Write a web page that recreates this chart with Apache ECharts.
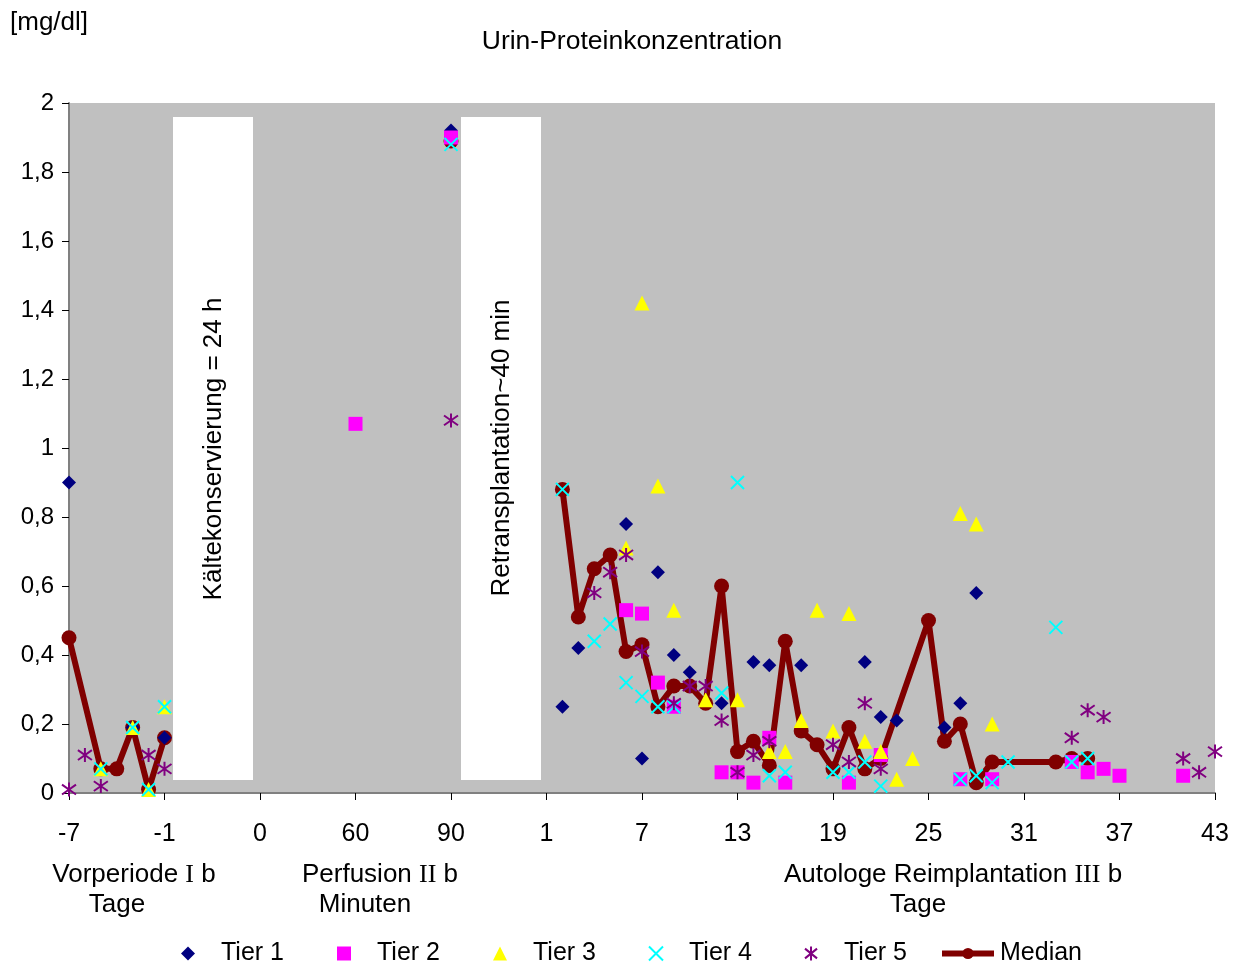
<!DOCTYPE html>
<html>
<head>
<meta charset="utf-8">
<title>Urin-Proteinkonzentration</title>
<script src="https://cdn.jsdelivr.net/npm/echarts@6/dist/echarts.min.js"></script>
<style>
  html, body { margin: 0; padding: 0; background: #ffffff; }
  #chart { width: 1242px; height: 964px; }
</style>
</head>
<body>
<div id="chart"></div>
<script>
// Tick labels of the x axis, one label every 6 category slots
const tickLabels = ['-7', '-1', '0', '60', '90', '1', '7', '13', '19', '25', '31', '37', '43'];

// Perfusion sampling times (minutes), each occupies one labelled slot
const perfusionTimes = [0, 60, 90];

// Measurements [phase, time, mg/dl]
// V = Vorperiode (day), P = Perfusion (minute), R = Reimplantation (day)
const tier1 = [
  ['V', -7, 0.90], ['V', -3, 0.19], ['V', -1, 0.16],
  ['P', 90, 1.92],
  ['R', 2, 0.25], ['R', 3, 0.42], ['R', 6, 0.78], ['R', 7, 0.10], ['R', 8, 0.64],
  ['R', 9, 0.40], ['R', 10, 0.35], ['R', 12, 0.26], ['R', 14, 0.38], ['R', 15, 0.37],
  ['R', 17, 0.37], ['R', 21, 0.38], ['R', 22, 0.22], ['R', 23, 0.21], ['R', 26, 0.19],
  ['R', 27, 0.26], ['R', 28, 0.58]
];
const tier2 = [
  ['P', 60, 1.07], ['P', 90, 1.90],
  ['R', 6, 0.53], ['R', 7, 0.52], ['R', 8, 0.32], ['R', 9, 0.25], ['R', 12, 0.06],
  ['R', 13, 0.06], ['R', 14, 0.03], ['R', 15, 0.16], ['R', 16, 0.03], ['R', 20, 0.03],
  ['R', 22, 0.11], ['R', 27, 0.04], ['R', 29, 0.04], ['R', 34, 0.09], ['R', 35, 0.06],
  ['R', 36, 0.07], ['R', 37, 0.05], ['R', 41, 0.05]
];
const tier3 = [
  ['V', -5, 0.07], ['V', -3, 0.19], ['V', -2, 0.01], ['V', -1, 0.25],
  ['R', 6, 0.71], ['R', 7, 1.42], ['R', 8, 0.89], ['R', 9, 0.53], ['R', 11, 0.27],
  ['R', 13, 0.27], ['R', 15, 0.12], ['R', 16, 0.12], ['R', 17, 0.21], ['R', 18, 0.53],
  ['R', 19, 0.18], ['R', 20, 0.52], ['R', 21, 0.15], ['R', 22, 0.12], ['R', 23, 0.04],
  ['R', 24, 0.10], ['R', 27, 0.81], ['R', 28, 0.78], ['R', 29, 0.20]
];
const tier4 = [
  ['V', -5, 0.07], ['V', -3, 0.19], ['V', -2, 0.01], ['V', -1, 0.25],
  ['P', 90, 1.88],
  ['R', 2, 0.88], ['R', 4, 0.44], ['R', 5, 0.49], ['R', 6, 0.32], ['R', 7, 0.28],
  ['R', 8, 0.25], ['R', 9, 0.25], ['R', 12, 0.29], ['R', 13, 0.90], ['R', 15, 0.05],
  ['R', 16, 0.06], ['R', 19, 0.06], ['R', 20, 0.06], ['R', 21, 0.09], ['R', 22, 0.02],
  ['R', 27, 0.04], ['R', 28, 0.05], ['R', 29, 0.03], ['R', 30, 0.09], ['R', 33, 0.48],
  ['R', 34, 0.09], ['R', 35, 0.10]
];
const tier5 = [
  ['V', -7, 0.01], ['V', -6, 0.11], ['V', -5, 0.02], ['V', -2, 0.11], ['V', -1, 0.07],
  ['P', 90, 1.08],
  ['R', 4, 0.58], ['R', 5, 0.64], ['R', 6, 0.69], ['R', 7, 0.41], ['R', 9, 0.26],
  ['R', 10, 0.31], ['R', 11, 0.31], ['R', 12, 0.21], ['R', 13, 0.06], ['R', 14, 0.11],
  ['R', 15, 0.15], ['R', 19, 0.14], ['R', 20, 0.09], ['R', 21, 0.26], ['R', 22, 0.07],
  ['R', 34, 0.16], ['R', 35, 0.24], ['R', 36, 0.22], ['R', 41, 0.10], ['R', 42, 0.06],
  ['R', 43, 0.12]
];
const median = [
  ['V', -7, 0.45], ['V', -5, 0.07], ['V', -4, 0.07], ['V', -3, 0.19], ['V', -2, 0.01], ['V', -1, 0.16],
  ['P', 90, 1.89],
  ['R', 2, 0.88], ['R', 3, 0.51], ['R', 4, 0.65], ['R', 5, 0.69], ['R', 6, 0.41],
  ['R', 7, 0.43], ['R', 8, 0.25], ['R', 9, 0.31], ['R', 10, 0.31], ['R', 11, 0.26],
  ['R', 12, 0.60], ['R', 13, 0.12], ['R', 14, 0.15], ['R', 15, 0.08], ['R', 16, 0.44],
  ['R', 17, 0.18], ['R', 18, 0.14], ['R', 19, 0.07], ['R', 20, 0.19], ['R', 21, 0.07],
  ['R', 22, 0.10], ['R', 25, 0.50], ['R', 26, 0.15], ['R', 27, 0.20], ['R', 28, 0.03],
  ['R', 29, 0.09], ['R', 33, 0.09], ['R', 34, 0.10], ['R', 35, 0.10]
];

// Position of a sample on the continuous category scale (0 .. 72)
function slot(phase, t) {
  if (phase === 'V') return t + 7;                              // day -7..-1 -> 0..6
  if (phase === 'P') return 12 + 6 * perfusionTimes.indexOf(t); // 0/60/90 min -> 12/18/24
  return 29 + t;                                                // day 1..43 -> 30..72
}
const toPoints = rows => rows.map(r => [slot(r[0], r[1]), r[2]]);

// The median line is interrupted between the three study phases
function medianPoints(rows) {
  const out = [];
  rows.forEach((r, i) => {
    if (i > 0 && rows[i - 1][0] !== r[0]) out.push([slot(r[0], r[1]) - 0.5, '-']);
    out.push([slot(r[0], r[1]), r[2]]);
  });
  return out;
}

const FONT = '"Liberation Sans", Arial, sans-serif';
const SERIF = '"Liberation Serif", "Times New Roman", serif';

const crossPath = 'path://M0,0L10,10M10,0L0,10';
const starPath = 'path://M5,0L5,10M0.7,1.5L9.3,8.5M9.3,1.5L0.7,8.5';

function scatter(name, rows, symbol, size, color, stroked) {
  return {
    name, type: 'scatter', z: 3,
    symbol, symbolSize: size,
    data: toPoints(rows),
    itemStyle: stroked
      ? { color: 'rgba(0,0,0,0)', borderColor: color, borderWidth: 2, opacity: 1 }
      : { color, borderWidth: 0, opacity: 1 },
    emphasis: { disabled: true }
  };
}

// One legend block per entry so marker icons keep their own proportions
const LEGEND_TOP = 936;
const legendText = { fontFamily: FONT, fontSize: 25, color: '#000', padding: [0, 0, 0, 21] };
function markerLegend(name, centerX) {
  return {
    data: [name], left: centerX - 12, top: LEGEND_TOP,
    itemWidth: 14, itemHeight: 14, selectedMode: false,
    textStyle: legendText
  };
}

const sectionLabel = (x, y, text) => ({
  type: 'text', x, y,
  style: {
    text, rich: {
      s: { fontFamily: FONT, fontSize: 26, color: '#000' },
      r: { fontFamily: SERIF, fontSize: 26, color: '#000' }
    },
    font: '26px ' + FONT, fill: '#000', align: 'center', verticalAlign: 'middle'
  }
});

const chart = echarts.init(document.getElementById('chart'), null, { renderer: 'canvas' });

chart.setOption({
  animation: false,
  backgroundColor: '#ffffff',
  grid: {
    left: 69, right: 27, top: 103, bottom: 171,
    show: true, backgroundColor: '#c0c0c0', borderWidth: 0
  },
  xAxis: {
    type: 'value', min: 0, max: 72, interval: 6,
    axisLine: { show: true, onZero: false, lineStyle: { color: '#808080', width: 2 } },
    axisTick: { show: true, length: 7, lineStyle: { color: '#000', width: 1 } },
    splitLine: { show: false },
    axisLabel: {
      margin: 29, fontFamily: FONT, fontSize: 25, color: '#000',
      formatter: v => tickLabels[Math.round(v / 6)]
    }
  },
  yAxis: {
    type: 'value', min: 0, max: 2, interval: 0.2,
    axisLine: { show: true, lineStyle: { color: '#808080', width: 2 } },
    axisTick: { show: true, length: 7, lineStyle: { color: '#000', width: 1 } },
    splitLine: { show: false },
    axisLabel: {
      margin: 15, fontFamily: FONT, fontSize: 24, color: '#000',
      formatter: v => String(Math.round(v * 10) / 10).replace('.', ',')
    }
  },
  legend: [
    markerLegend('Tier 1', 188),
    markerLegend('Tier 2', 344),
    markerLegend('Tier 3', 500),
    markerLegend('Tier 4', 655),
    markerLegend('Tier 5', 811),
    {
      data: ['Median'], left: 934, top: LEGEND_TOP,
      itemWidth: 52, itemHeight: 14, selectedMode: false,
      lineStyle: { width: 6, color: '#800000' },
      itemStyle: { color: '#800000' },
      textStyle: { fontFamily: FONT, fontSize: 25, color: '#000', padding: [0, 0, 0, 1] }
    }
  ],
  graphic: [
    { type: 'text', left: 10, top: 10,
      style: { text: '[mg/dl]', font: '26px ' + FONT, fill: '#000' } },
    { type: 'text', x: 632, y: 42,
      style: { text: 'Urin-Proteinkonzentration', font: '26.5px ' + FONT, fill: '#000',
               align: 'center', verticalAlign: 'middle' } },
    // cold storage and retransplantation windows
    { type: 'rect', shape: { x: 173, y: 117, width: 80, height: 663 }, style: { fill: '#ffffff' }, z: 10 },
    { type: 'rect', shape: { x: 461, y: 117, width: 80, height: 663 }, style: { fill: '#ffffff' }, z: 10 },
    { type: 'text', x: 214, y: 449, rotation: Math.PI / 2, z: 11,
      style: { text: 'Kältekonservierung = 24 h', font: '26px ' + FONT, fill: '#000',
               align: 'center', verticalAlign: 'middle' } },
    { type: 'text', x: 502, y: 448, rotation: Math.PI / 2, z: 11,
      style: { text: 'Retransplantation~40 min', font: '26px ' + FONT, fill: '#000',
               align: 'center', verticalAlign: 'middle' } },
    // phase captions under the axis
    sectionLabel(134, 875, '{s|Vorperiode }{r|I}{s| b}'),
    sectionLabel(117, 905, '{s|Tage}'),
    sectionLabel(380, 875, '{s|Perfusion }{r|II}{s| b}'),
    sectionLabel(365, 905, '{s|Minuten}'),
    sectionLabel(953, 875, '{s|Autologe Reimplantation }{r|III}{s| b}'),
    sectionLabel(918, 905, '{s|Tage}')
  ],
  series: [
    {
      name: 'Median', type: 'line', z: 2,
      data: medianPoints(median),
      connectNulls: false,
      symbol: 'circle', symbolSize: 15, showSymbol: true,
      lineStyle: { color: '#800000', width: 6 },
      itemStyle: { color: '#800000', borderWidth: 0 },
      emphasis: { disabled: true }
    },
    scatter('Tier 1', tier1, 'diamond', 14, '#000080', false),
    scatter('Tier 2', tier2, 'rect', 14, '#ff00ff', false),
    scatter('Tier 3', tier3, 'triangle', 15, '#ffff00', false),
    scatter('Tier 4', tier4, crossPath, 13, '#00ffff', true),
    scatter('Tier 5', tier5, starPath, 14, '#800080', true)
  ]
});
</script>
</body>
</html>
